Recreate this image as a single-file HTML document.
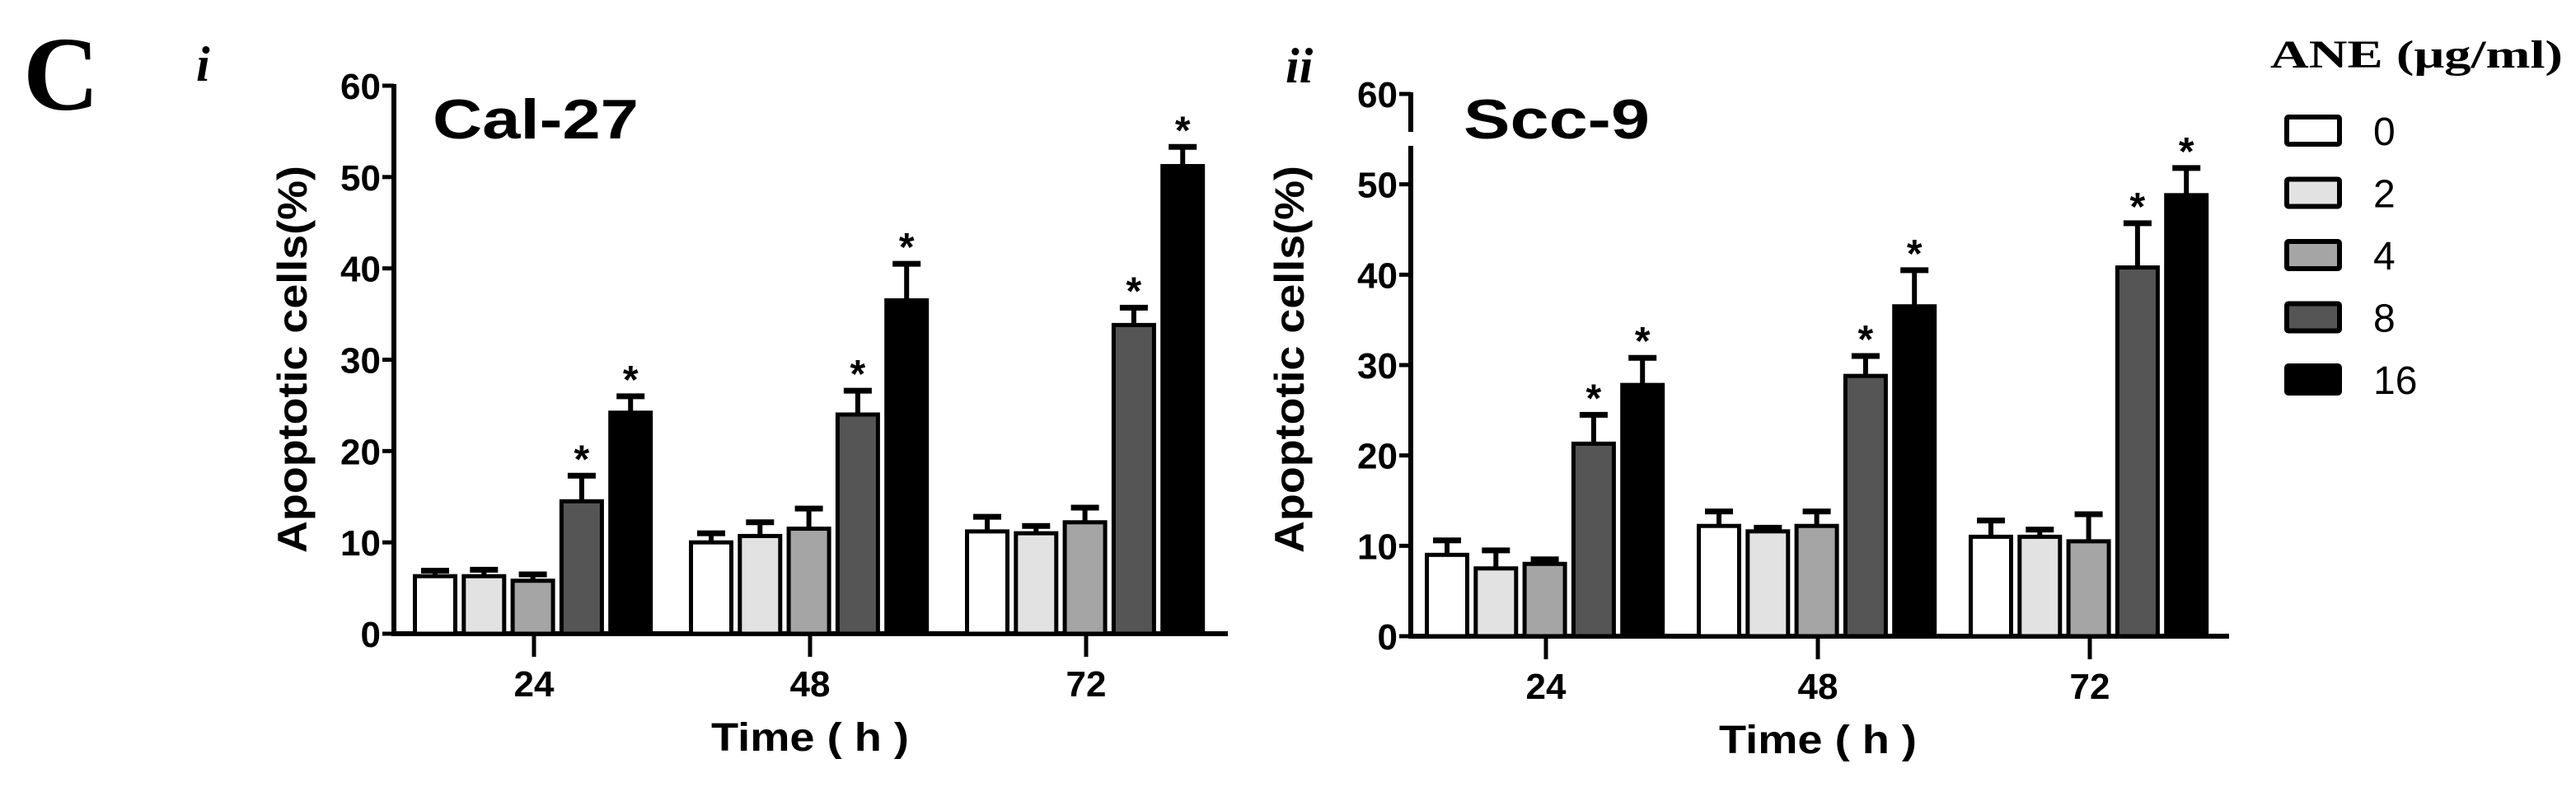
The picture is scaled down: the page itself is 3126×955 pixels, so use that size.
<!DOCTYPE html>
<html><head><meta charset="utf-8"><style>
html,body{margin:0;padding:0;background:#fff;}
svg{display:block;}
text{font-family:"Liberation Sans",sans-serif;font-weight:bold;fill:#000;}
.serif{font-family:"Liberation Serif",serif;}
</style></head><body>
<svg id="chart" width="3126" height="955" viewBox="0 0 3126 955">
<text class="serif" x="28" y="133" font-size="128" font-weight="normal">C</text>
<text class="serif" x="238" y="98" font-size="60" font-style="italic" font-weight="normal">i</text>
<text class="serif" x="1560" y="100" font-size="60" font-style="italic" font-weight="normal">ii</text>
<g id="p1"></g><g id="p2"></g><g id="legend"></g>
</svg>
<script>
const categories = ["24","48","72"];
const doses = ["0","2","4","8","16"];
const colors = ["#ffffff","#e2e2e2","#a5a5a5","#555555","#000000"];
const yTicks = [0,10,20,30,40,50,60];
// Cal-27 values [time][dose]
const calMeans = [[6.3,6.3,5.8,14.5,24.2],[10.0,10.7,11.5,24.0,36.5],[11.2,11.0,12.2,33.8,51.2]];
const calErr = [[0.6,0.7,0.7,2.8,1.8],[1.0,1.5,2.2,2.6,4.0],[1.6,0.8,1.6,1.9,2.1]];
const calSig = [[0,0,0,1,1],[0,0,0,1,1],[0,0,0,1,1]];
// Scc-9 values
const sccMeans = [[9.0,7.5,8.0,21.3,27.8],[12.2,11.6,12.2,28.8,36.5],[11.0,11.0,10.5,40.8,48.8]];
const sccErr = [[1.6,2.0,0.5,3.2,3.0],[1.6,0.4,1.6,2.2,4.0],[1.8,0.8,3.0,4.9,3.0]];
const sccSig = [[0,0,0,1,1],[0,0,0,1,1],[0,0,0,1,1]];

const NS="http://www.w3.org/2000/svg";
function mk(parent,tag,attrs){const e=document.createElementNS(NS,tag);for(const k in attrs)e.setAttribute(k,attrs[k]);parent.appendChild(e);return e;}

function panel(g,cfg,means,errs,sig,title){
  const y=v=>cfg.y0-(v/60)*(cfg.y0-cfg.y60);
  const gx=i=>cfg.x1+i*cfg.gs;
  // axes
  if(cfg.broken){
    const a1=mk(g,'line',{x1:cfg.ax,y1:y(60)-2,x2:cfg.ax,y2:cfg.brkTop,stroke:'#000','stroke-width':6});
    
    const a2=mk(g,'line',{x1:cfg.ax,y1:cfg.brkBot,x2:cfg.ax,y2:cfg.y0+3,stroke:'#000','stroke-width':6});
    
  } else {
    const a=mk(g,'line',{x1:cfg.ax,y1:y(60)-2,x2:cfg.ax,y2:cfg.y0+3,stroke:'#000','stroke-width':6});
    
  }
  const xa=mk(g,'line',{x1:cfg.ax-3,y1:cfg.y0,x2:cfg.axEnd,y2:cfg.y0,stroke:'#000','stroke-width':6});
  
  yTicks.forEach(t=>{
    const tl=mk(g,'line',{x1:cfg.ax-14,y1:y(t),x2:cfg.ax,y2:y(t),stroke:'#000','stroke-width':5});
    
    const tx=mk(g,'text',{x:cfg.ax-16,y:y(t)+16,'font-size':44,'text-anchor':'end'});
    tx.textContent=t;
    
  });
  categories.forEach((c,i)=>{
    const cx=gx(i);
    const tl=mk(g,'line',{x1:cx,y1:cfg.y0,x2:cx,y2:cfg.y0+28,stroke:'#000','stroke-width':5});
    
    const tx=mk(g,'text',{x:cx,y:cfg.y0+76,'font-size':44,'text-anchor':'middle'});
    tx.textContent=c;
    
    doses.forEach((d,j)=>{
      const left=cx-147+j*59.3, w=54;
      const v=means[i][j], top=y(v), et=y(v+errs[i][j]);
      const bx=left+w/2;
      const el=mk(g,'line',{x1:bx,y1:top,x2:bx,y2:et,stroke:'#000','stroke-width':6});
      
      const ec=mk(g,'line',{x1:bx-17,y1:et,x2:bx+17,y2:et,stroke:'#000','stroke-width':7});
      
      const r=mk(g,'rect',{x:left+2.5,y:top,width:w-5,height:cfg.y0-top,fill:colors[j],stroke:'#000','stroke-width':5});
      
      if(sig[i][j]){
        const s=mk(g,'text',{x:bx,y:et-4,'font-size':48,'text-anchor':'middle'});
        s.textContent='*';
        
      }
    });
  });
  const tt=mk(g,'text',{x:cfg.titleX,y:cfg.titleY,'font-size':68,textLength:cfg.titleW,lengthAdjust:'spacingAndGlyphs'});
  tt.textContent=title;
  
  const yt=mk(g,'text',{x:0,y:0,'font-size':50,'text-anchor':'middle',textLength:470,lengthAdjust:'spacingAndGlyphs',transform:`translate(${cfg.ytX},${cfg.ytY}) rotate(-90)`});
  yt.textContent='Apoptotic cells(%)';
  
  const xt=mk(g,'text',{x:gx(1),y:cfg.y0+142,'font-size':48,'text-anchor':'middle',textLength:240,lengthAdjust:'spacingAndGlyphs'});
  xt.textContent='Time ( h )';
  
}

panel(document.getElementById('p1'),{ax:478,axEnd:1490,y0:769,y60:104,x1:648,gs:335,titleX:525,titleY:168,titleW:250,ytX:372,ytY:436},calMeans,calErr,calSig,'Cal-27');
panel(document.getElementById('p2'),{ax:1712,axEnd:2705,y0:772,y60:114,x1:1876,gs:330,broken:true,brkTop:160,brkBot:177,titleX:1776,titleY:168,titleW:226,ytX:1582,ytY:436},sccMeans,sccErr,sccSig,'Scc-9');

const lg=document.getElementById('legend');
const lt=mk(lg,'text',{x:2755,y:82,'font-size':48,'class':'serif',textLength:355,lengthAdjust:'spacingAndGlyphs'});
lt.textContent='ANE (μg/ml)';

doses.forEach((d,j)=>{
  const yy=142+j*75.5;
  const r=mk(lg,'rect',{x:2775,y:yy,width:64,height:33,fill:colors[j],stroke:'#000','stroke-width':6,rx:2});
  
  const t=mk(lg,'text',{x:2880,y:yy+34,'font-size':48,'font-weight':'normal',style:'font-weight:normal'});
  t.textContent=d;
  
});
</script>
</body></html>
